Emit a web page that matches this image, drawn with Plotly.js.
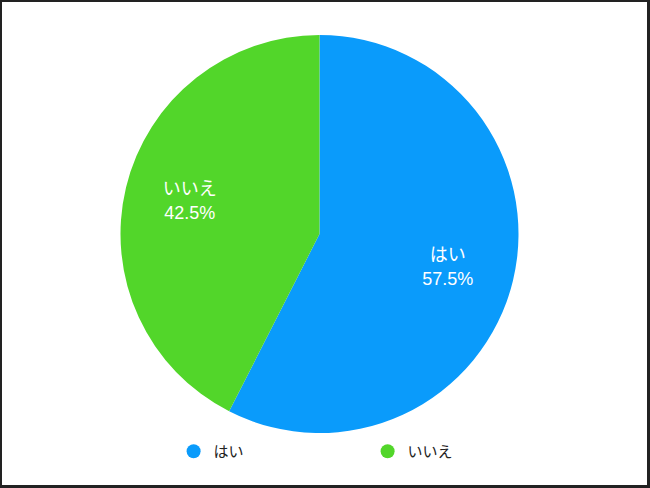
<!DOCTYPE html>
<html>
<head>
<meta charset="utf-8">
<script src="https://cdn.plot.ly/plotly-3.0.1.min.js"></script>
<style>
html,body{margin:0;padding:0;background:#fff;}
#frame{position:absolute;left:0;top:0;width:645px;height:483px;border-left:2px solid #222;border-top:2px solid #222;border-right:3px solid #222;border-bottom:3px solid #222;overflow:hidden;}
#chart{position:absolute;left:-2px;top:-2px;width:650px;height:488px;}
</style>
</head>
<body>
<div id="frame"><div id="chart"></div></div>
<script>
const labels = ["はい", "いいえ"];
const values = [57.5, 42.5];
const colors = ["#0a9bfb", "#52d62a"];

const fontFam = "Liberation Sans, Arial, Noto Sans CJK JP, sans-serif";

const traces = [{
  type: "pie",
  labels: labels,
  values: values,
  sort: false,
  direction: "clockwise",
  rotation: 0,
  marker: {colors: colors, line: {width: 0}},
  textinfo: "none",
  showlegend: false,
  hoverinfo: "none"
}, {
  // transparent inner pie that carries the slice labels at the reference radius
  type: "pie",
  labels: labels,
  values: values,
  sort: false,
  direction: "clockwise",
  rotation: 5,
  domain: {x: [0.3482, 0.6518], y: [0.2563, 0.7437]},
  marker: {colors: ["rgba(0,0,0,0)", "rgba(0,0,0,0)"], line: {width: 0}},
  texttemplate: "%{label}<br>%{percent:.1%}",
  textposition: "outside",
  textfont: {color: "#ffffff", size: 18, family: fontFam},
  showlegend: false,
  hoverinfo: "none"
}];
labels.forEach((l, i) => {
  traces.push({
    type: "scatter", x: [null], y: [null], mode: "markers", name: l,
    marker: {color: colors[i], size: 14, symbol: "circle"},
    showlegend: true, hoverinfo: "none"
  });
});

const layout = {
  width: 650, height: 488,
  margin: {l: 0, r: 11, t: 35, b: 55},
  paper_bgcolor: "#ffffff",
  plot_bgcolor: "rgba(0,0,0,0)",
  xaxis: {visible: false},
  yaxis: {visible: false},
  showlegend: true,
  legend: {
    orientation: "h",
    x: 0.2717, xanchor: "left",
    y: -0.005, yanchor: "top",
    entrywidth: 149, entrywidthmode: "pixels",
    font: {size: 15, color: "#222222", family: fontFam},
    itemclick: false, itemdoubleclick: false
  }
};
Plotly.newPlot("chart", traces, layout, {displayModeBar: false, staticPlot: true});
</script>
</body>
</html>
